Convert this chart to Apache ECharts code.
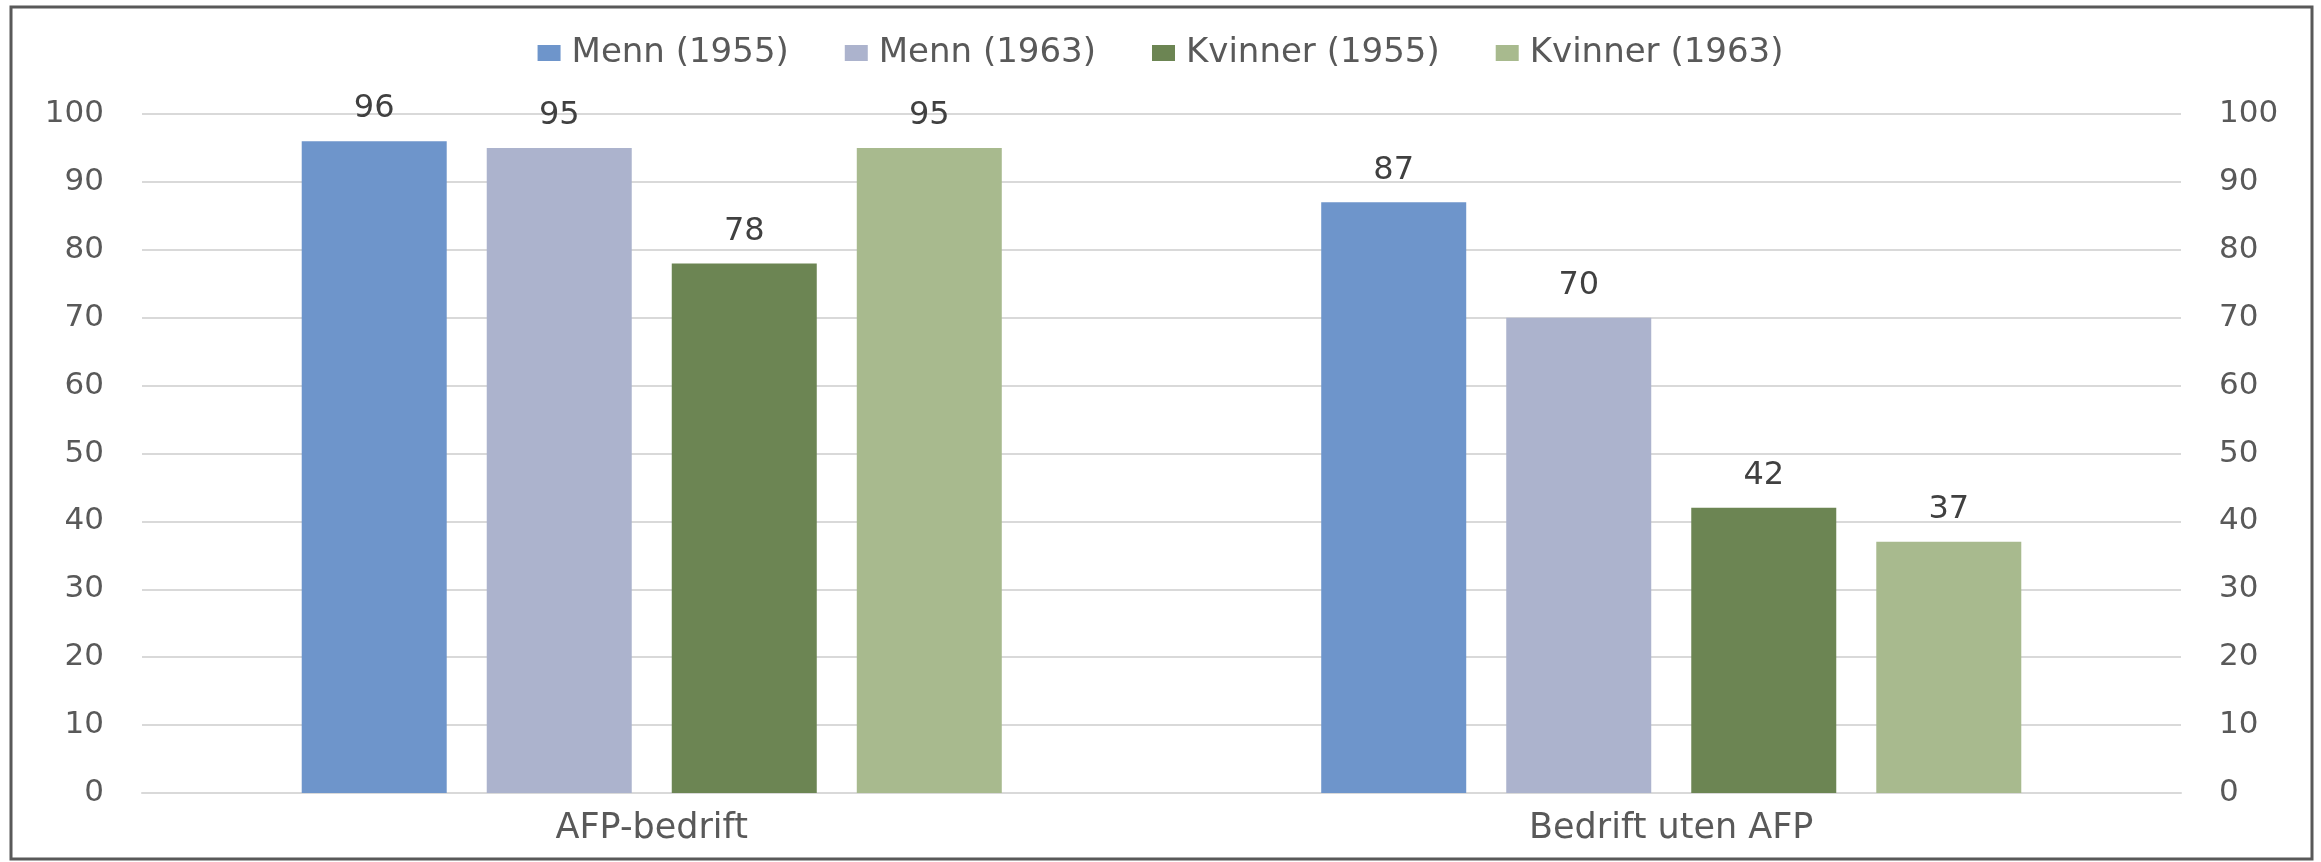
<!DOCTYPE html>
<html>
<head>
<meta charset="utf-8">
<script src="https://cdn.jsdelivr.net/npm/echarts@6/dist/echarts.min.js"></script>
<style>
  html, body { margin: 0; padding: 0; background: #fff; }
  #chart { width: 2321px; height: 862px; }
</style>
</head>
<body>
<div id="chart"></div>
<script>
// kategorier og verdier (prosent)
const categories = ['AFP-bedrift', 'Bedrift uten AFP']
const seriesNames = ['Menn (1955)', 'Menn (1963)', 'Kvinner (1955)', 'Kvinner (1963)']
const menn1955 = [96, 87]
const menn1963 = [95, 70]
const kvinner1955 = [78, 42]
const kvinner1963 = [95, 37]
const yTicks = [0, 10, 20, 30, 40, 50, 60, 70, 80, 90, 100]

const colors = ['#6e95cb', '#acb3cd', '#6c8553', '#a8ba8e']
const font = 'DejaVu Sans'

const myChart = echarts.init(document.getElementById('chart'))

function bar(name, data, i) {
  return {
    name: name,
    type: 'bar',
    yAxisIndex: 0,
    data: data,
    barWidth: 145,
    barGap: '27.6%',
    itemStyle: { color: colors[i] },
    label: {
      show: true,
      position: 'top',
      distance: 16,
      color: '#404040',
      fontFamily: font,
      fontSize: 32
    }
  }
}

const axisLabelStyle = {
  color: '#595959',
  fontFamily: font,
  fontSize: 31,
  margin: 38
}

const option = {
  animation: false,
  backgroundColor: '#fff',
  graphic: [{
    type: 'rect',
    shape: { x: 11, y: 7, width: 2301, height: 852 },
    style: { fill: 'none', stroke: '#595959', lineWidth: 3 },
    z: 100
  }],
  legend: {
    data: seriesNames,
    top: 31,
    left: 'center',
    itemWidth: 23,
    itemHeight: 16,
    itemGap: 56,
    icon: 'rect',
    textStyle: { color: '#595959', fontFamily: font, fontSize: 34, padding: [0, 0, 0, 6] }
  },
  grid: {
    left: 142,
    right: 140,
    top: 114,
    bottom: 69
  },
  xAxis: {
    type: 'category',
    data: categories,
    axisLine: { lineStyle: { color: '#d9d9d9', width: 2 } },
    axisTick: { show: false },
    axisLabel: {
      color: '#595959',
      fontFamily: font,
      fontSize: 35,
      margin: 18
    }
  },
  yAxis: [{
    type: 'value',
    min: yTicks[0],
    max: yTicks[yTicks.length - 1],
    interval: 10,
    position: 'left',
    axisLine: { show: false },
    axisTick: { show: false },
    splitLine: { lineStyle: { color: '#d9d9d9', width: 2 } },
    axisLabel: axisLabelStyle
  }, {
    type: 'value',
    min: yTicks[0],
    max: yTicks[yTicks.length - 1],
    interval: 10,
    position: 'right',
    axisLine: { show: false },
    axisTick: { show: false },
    splitLine: { show: false },
    axisLabel: axisLabelStyle
  }],
  series: [
    bar(seriesNames[0], menn1955, 0),
    bar(seriesNames[1], menn1963, 1),
    bar(seriesNames[2], kvinner1955, 2),
    bar(seriesNames[3], kvinner1963, 3)
  ]
}

myChart.setOption(option)
</script>
</body>
</html>
